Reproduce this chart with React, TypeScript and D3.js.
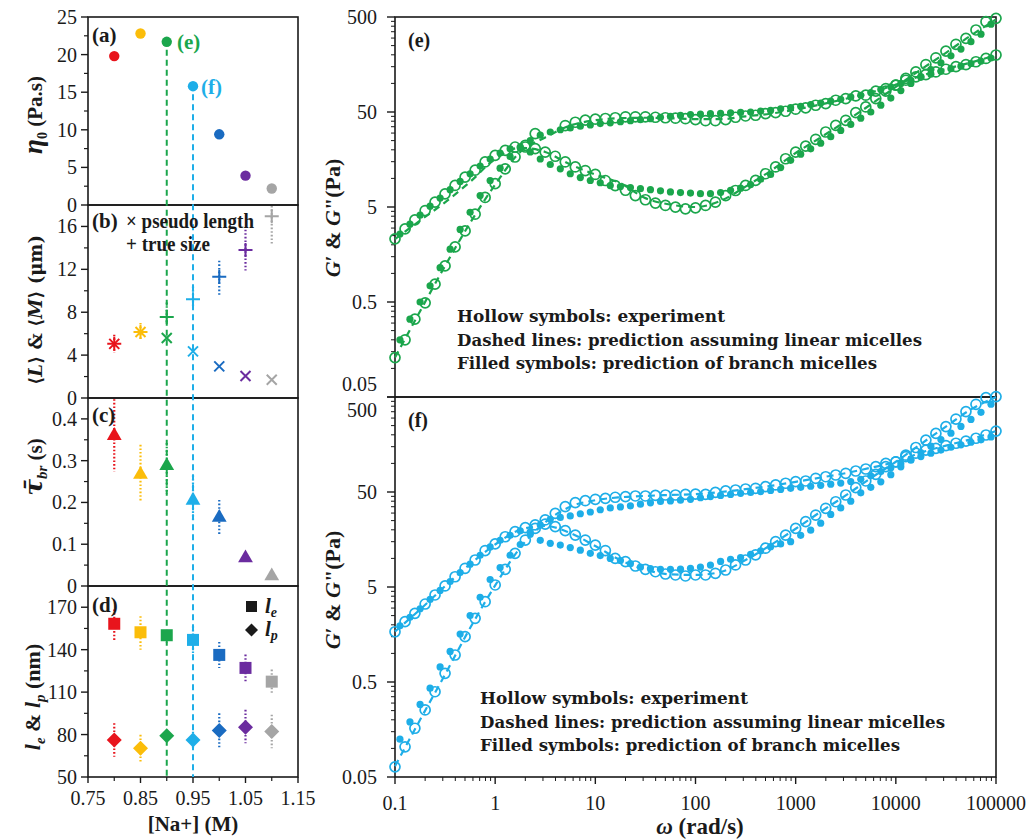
import React from "react";
import * as d3 from "d3";

// ---------- left column: properties vs [Na+] ----------
const NA = [0.8, 0.85, 0.9, 0.95, 1.0, 1.05, 1.1];
const NA_COLORS = ["#e8141c", "#fbbd0a", "#1ba64c", "#1eaee8", "#1a6bc1", "#6b2c9f", "#a5a5a5"];

const ETA0 = [19.8, 22.8, 21.7, 15.8, 9.4, 3.9, 2.2];

const TRUE_SIZE = [5.05, 6.15, 7.55, 9.2, 11.3, 13.8, 16.95];
const TRUE_SIZE_LO = [4.2, 5.4, 7.0, 8.5, 9.6, 11.9, 14.3];
const TRUE_SIZE_HI = [5.9, 7.0, 8.9, 10.4, 12.8, 15.7, 19];
const PSEUDO_LENGTH = [5.05, 6.15, 5.6, 4.35, 2.95, 2.05, 1.7];

const TAU_BR = [0.36, 0.267, 0.288, 0.205, 0.164, 0.067, 0.024];
const TAU_BR_LO = [0.274, 0.2, 0.22, 0.156, 0.124, 0.067, 0.024];
const TAU_BR_HI = [0.447, 0.338, 0.342, 0.265, 0.206, 0.067, 0.024];

const LE = [158.3, 152.3, 150.2, 146.9, 136.3, 127.1, 117.4];
const LE_LO = [146, 140, 145, 136.5, 127, 117.6, 108.2];
const LE_HI = [168.4, 163.7, 153, 156.6, 145.5, 136.5, 125.9];
const LP = [76.2, 70.3, 79.1, 76.2, 82.8, 85.2, 82.1];
const LP_LO = [64.4, 60.9, 75, 70, 70.3, 73.9, 70.3];
const LP_HI = [88, 79.8, 82, 82, 95, 97.5, 94];

// ---------- right column: G' and G'' vs omega ----------
const OMEGA = [
  0.1, 0.126, 0.158, 0.2, 0.251, 0.316, 0.398, 0.501, 0.631, 0.794,
  1, 1.26, 1.58, 2, 2.51, 3.16, 3.98, 5.01, 6.31, 7.94,
  10, 12.6, 15.8, 20, 25.1, 31.6, 39.8, 50.1, 63.1, 79.4,
  100, 126, 158, 200, 251, 316, 398, 501, 631, 794,
  1000, 1259, 1585, 1995, 2512, 3162, 3981, 5012, 6310, 7943,
  10000, 12589, 15849, 19953, 25119, 31623, 39811, 50119, 63096, 79433,
  100000,
];
const OMEGA_FIT = [
  0.112, 0.141, 0.178, 0.224, 0.282, 0.355, 0.447, 0.562, 0.708, 0.891,
  1.12, 1.41, 1.78, 2.24, 2.82, 3.55, 4.47, 5.62, 7.08, 8.91,
  11.2, 14.1, 17.8, 22.4, 28.2, 35.5, 44.7, 56.2, 70.8, 89.1,
  112, 141, 178, 224, 282, 355, 447, 562, 708, 891,
  1122, 1413, 1778, 2239, 2818, 3548, 4467, 5623, 7079, 8913,
  11220, 14125, 17783, 22387, 28184, 35481, 44668, 56234, 70795, 89125,
];
const OMEGA_LIN = [
  0.1, 0.178, 0.316, 0.562, 1, 1.78, 3.16, 5.62, 10, 17.8, 31.6, 56.2, 100,
  178, 316, 562, 1000, 1778, 3162, 5623, 10000, 17783, 31623, 56234, 100000,
];

// (e) experiment
const E_STORAGE = [
  0.13, 0.2, 0.33, 0.49, 0.77, 1.2, 1.9, 2.8, 4.2, 6.3,
  8.8, 12.6, 16.8, 21.4, 29.6, null, null, 36, 39, 41,
  42, 42.7, 43.5, 44.5, 44.5, 44.5, 44, 43.5, 43, 42.5,
  41.5, 40.5, 40.5, 41.5, 44, 45.4, 46.2, 48.1, 49.3, 50.9,
  53.5, 55.2, 58.9, 61.4, 66.5, 69.3, 73.8, 75.1, 82.8, 88.3,
  95.8, 108, 117, 124, 132, 141, 150, 158, 169, 183,
  199,
];
const E_LOSS = [
  2.31, 2.94, 3.66, 4.59, 5.62, 6.88, 8.43, 10.3, 12.2, 14.9,
  17.5, 19.7, 21.4, 22.3, 20.6, 18.9, 17.1, 14.9, 13.2, 12.1,
  11.0, 9.5, 8.4, 7.5, 6.6, 5.96, 5.5, 5.19, 4.98, 4.78,
  4.9, 5.19, 5.62, 6.6, 7.46, 8.43, 9.52, 11.2, 13.2, 16.1,
  18.9, 21.9, 25.8, 30.8, 36.2, 40.9, 49.3, 56.5, 69.3, 82.8,
  95.8, 113, 132, 158, 186, 219, 258, 298, 365, 446,
  484,
];
// (e) branched-micelle prediction
const E_STORAGE_FIT = [
  0.2, 0.33, 0.5, 0.74, 1.15, 1.8, 2.9, 4.4, 6.6, 9.5,
  12.8, 17, 21, 25, 28.5, 30.8, 32.5, 34, 35.5, 36.5,
  37.8, 38.5, 39.5, 40.5, 41.5, 42.5, 44, 45, 46, 47,
  47.5, 48, 48.5, 49, 49.5, 50, 51, 52, 54, 55.5,
  57.5, 60, 62, 65, 68, 72, 75, 80, 86, 92,
  100, 108, 116, 125, 134, 143, 152, 162, 172, 185,
];
const E_LOSS_FIT = [
  2.6, 3.3, 4.1, 5.1, 6.2, 7.6, 9.3, 11.2, 13.5, 16,
  18.5, 20.5, 21.5, 19, 16, 14, 12.6, 11.2, 10.2, 9.5,
  9.0, 8.4, 8.2, 8.0, 7.8, 7.6, 7.4, 7.2, 7.1, 7.0,
  6.9, 6.9, 7.1, 7.5, 7.9, 8.6, 9.8, 11, 13, 15.5,
  18, 20.5, 23.5, 27.5, 32, 37, 43, 50, 59, 70,
  84, 100, 118, 140, 165, 195, 230, 275, 330, 420,
];
// (e) linear-micelle prediction
const E_STORAGE_LIN = [0.13, 0.4, 1.2, 3.4, 8.6, 19, 27, 36, 41, 43, 43.5, 43, 42, 42, 45, 48, 53, 60, 69, 80, 97, 120, 142, 166, 198];
const E_LOSS_LIN = [2.3, 3.6, 5.6, 9.2, 16, 21, 19, 14, 11, 8.9, 6.2, 5.3, 5.0, 5.8, 8.2, 12, 18.5, 27, 40, 60, 92, 140, 210, 320, 470];

// (f) experiment
const F_STORAGE = [
  0.064, 0.104, 0.163, 0.254, 0.395, 0.617, 0.962, 1.5, 2.34, 3.5,
  5.25, 7.67, 11.3, 15.6, 20.7, 25.4, 29.8, 35.1, 38.6, 40.5,
  41.9, 42.9, 44, 44.7, 45.4, 45.4, 46.1, 46.5, 46.5, 47.2,
  47.5, 47.2, 49.6, 51.3, 52.5, 53.8, 54.7, 56.9, 59.3, 61.8,
  64.3, 65.3, 69.7, 72.4, 75.5, 78.7, 83.2, 87.3, 92.4, 100,
  104, 118, 128, 138, 144, 154, 163, 172, 184, 199,
  219,
];
const F_LOSS = [
  1.69, 2.16, 2.64, 3.31, 4.12, 5.13, 6.41, 7.87, 9.62, 12.1,
  14.2, 16.9, 19.1, 21.1, 22.5, 23, 21.6, 19.6, 17.6, 15.6,
  13.8, 12.1, 10.0, 9.25, 8.32, 7.67, 7.24, 6.85, 6.69, 6.53,
  6.69, 6.69, 6.97, 7.55, 8.53, 9.62, 10.9, 12.8, 15.0, 17.6,
  20.7, 24.4, 28.6, 33.7, 39.5, 46.5, 55.6, 65.3, 76.7, 92.4,
  104, 122, 147, 176, 207, 244, 293, 351, 419, 492,
  505,
];
const F_STORAGE_FIT = [
  0.125, 0.19, 0.29, 0.43, 0.72, 1.05, 1.6, 2.5, 3.9, 6.0,
  8.0, 10.8, 14, 18, 22.5, 25.8, 27, 28, 29.5, 30.8,
  32.5, 34, 34.8, 35.8, 37.2, 38.5, 39.7, 40.3, 41, 41.9,
  43.5, 44.8, 46, 47.2, 48.4, 49.5, 50.5, 52, 53.2, 54.7,
  56, 57.5, 58.8, 60.5, 62, 64.5, 68, 74, 82, 90,
  99, 108, 118, 128, 138, 148, 157, 167, 177, 190,
];
const F_LOSS_FIT = [
  1.95, 2.4, 2.95, 3.7, 4.6, 5.7, 7.1, 8.7, 10.8, 13.2,
  15.5, 17.5, 19.5, 19, 15.5, 14.4, 13.8, 13, 12.2, 11.3,
  10.7, 10, 9.5, 8.8, 8.1, 7.8, 7.67, 7.67, 7.7, 7.87,
  8.1, 8.5, 9.3, 9.8, 10.2, 11, 12, 13.3, 14.2, 15,
  17.5, 19.8, 23.5, 29, 34, 40, 49, 56, 64, 76,
  92, 110, 130, 152, 178, 208, 245, 290, 345, 420,
];
const F_STORAGE_LIN = [0.065, 0.2, 0.6, 1.85, 5.2, 13, 24, 35, 41, 44, 45.5, 46.5, 47.5, 50, 53.5, 58, 64, 71, 79, 90, 104, 130, 154, 180, 219];
const F_LOSS_LIN = [1.7, 2.9, 5.1, 8.7, 14, 20, 22, 18.5, 13.5, 9.6, 7.6, 6.8, 6.7, 7.2, 9.6, 13.8, 20.5, 31, 46, 70, 104, 160, 244, 370, 500];

const NOTES = [
  "Hollow symbols: experiment",
  "Dashed lines: prediction assuming linear micelles",
  "Filled symbols: prediction of branch micelles",
];
const NOTE_WIDTHS = [268, 465, 420];

const GREEN = "#1ba64c";
const SKY = "#1eaee8";
const INK = "#1a1a1a";
const BOLD_SERIF = "'DejaVu Serif', serif";

// layout
const LX0 = 88, LX1 = 298;
const RX0 = 395, RX1 = 996;
const xNa = d3.scaleLinear().domain([0.75, 1.15]).range([LX0, LX1]);
const xW = d3.scaleLog().domain([0.1, 100000]).range([RX0, RX1]);

const yA = d3.scaleLinear().domain([0, 25]).range([205, 17]);
const yB = d3.scaleLinear().domain([0, 18]).range([398, 205]);
const yC = d3.scaleLinear().domain([0, 0.45]).range([586, 398]);
const yD = d3.scaleLinear().domain([50, 185]).range([777, 586]);

function LeftFrame({ y, major, minor, fmt }) {
  const [b, t] = y.range();
  return (
    <g>
      <rect x={LX0} y={t} width={LX1 - LX0} height={b - t} fill="none" stroke={INK} strokeWidth={1.6} />
      {minor.map((v) => (
        <line key={"m" + v} x1={LX0 - 4} x2={LX0} y1={y(v)} y2={y(v)} stroke={INK} strokeWidth={1.2} />
      ))}
      {major.map((v) => (
        <g key={"M" + v}>
          <line x1={LX0 - 7} x2={LX0} y1={y(v)} y2={y(v)} stroke={INK} strokeWidth={1.4} />
          <text x={77} y={y(v)} dy="0.35em" textAnchor="end" fontSize={20} fill={INK}>
            {fmt(v)}
          </text>
        </g>
      ))}
    </g>
  );
}

function ErrorBar({ x, y, lo, hi, color }) {
  const [b, t] = y.range();
  const y1 = Math.max(t + 1, y(hi));
  const y2 = Math.min(b - 1, y(lo));
  return <line x1={x} x2={x} y1={y1} y2={y2} stroke={color} strokeWidth={2.2} strokeDasharray="1.6 2" />;
}

function diamond(cx, cy, r) {
  return `M${cx},${cy - r}L${cx + r},${cy}L${cx},${cy + r}L${cx - r},${cy}Z`;
}

const triangle = d3.symbol(d3.symbolTriangle, 95);

function LeftColumn() {
  const f0 = (v) => String(v);
  return (
    <g>
      {/* (a) zero-shear viscosity */}
      <LeftFrame y={yA} major={d3.range(0, 26, 5)} minor={d3.range(2.5, 25, 5)} fmt={f0} />
      {/* (b) sizes */}
      <LeftFrame y={yB} major={d3.range(0, 17, 4)} minor={d3.range(2, 18, 4)} fmt={f0} />
      {/* (c) breaking time */}
      <LeftFrame
        y={yC}
        major={[0, 0.1, 0.2, 0.3, 0.4]}
        minor={[0.05, 0.15, 0.25, 0.35]}
        fmt={(v) => (v === 0 ? "0" : d3.format(".1f")(v))}
      />
      {/* (d) lengths */}
      <LeftFrame y={yD} major={[50, 80, 110, 140, 170]} minor={[65, 95, 125, 155]} fmt={f0} />

      {/* bottom x axis */}
      {[0.75, 0.85, 0.95, 1.05, 1.15].map((v) => (
        <g key={"xl" + v}>
          <line x1={xNa(v)} x2={xNa(v)} y1={777} y2={783} stroke={INK} strokeWidth={1.4} />
          <text x={xNa(v)} y={805} textAnchor="middle" fontSize={20} fill={INK}>
            {d3.format(".2f")(v)}
          </text>
        </g>
      ))}
      {[0.8, 0.9, 1.0, 1.1].map((v) => (
        <line key={"xm" + v} x1={xNa(v)} x2={xNa(v)} y1={777} y2={781} stroke={INK} strokeWidth={1.2} />
      ))}
      <text x={193} y={831} textAnchor="middle" fontSize={21} fontWeight="bold" fill={INK}>
        [Na+] (M)
      </text>

      {/* guide lines for (e) and (f) */}
      <line x1={xNa(0.9)} x2={xNa(0.9)} y1={yA(ETA0[2]) + 8} y2={777} stroke={GREEN} strokeWidth={2} strokeDasharray="6 4" />
      <line x1={xNa(0.95)} x2={xNa(0.95)} y1={yA(ETA0[3]) + 8} y2={777} stroke={SKY} strokeWidth={2} strokeDasharray="6 4" />

      {/* (a) points */}
      {NA.map((n, i) => (
        <circle key={"a" + i} cx={xNa(n)} cy={yA(ETA0[i])} r={5.2} fill={NA_COLORS[i]} />
      ))}
      <text x={177} y={49} fontSize={21} fontWeight="bold" fill={GREEN}>(e)</text>
      <text x={201} y={94} fontSize={21} fontWeight="bold" fill={SKY}>(f)</text>

      {/* (b) points */}
      {NA.map((n, i) => {
        const cx = xNa(n);
        const c = NA_COLORS[i];
        const ty = yB(TRUE_SIZE[i]);
        const py = yB(PSEUDO_LENGTH[i]);
        return (
          <g key={"b" + i}>
            <ErrorBar x={cx} y={yB} lo={TRUE_SIZE_LO[i]} hi={TRUE_SIZE_HI[i]} color={c} />
            <path d={`M${cx - 7},${ty}H${cx + 7}M${cx},${ty - 7}V${ty + 7}`} stroke={c} strokeWidth={2} />
            <path
              d={`M${cx - 5},${py - 5}L${cx + 5},${py + 5}M${cx - 5},${py + 5}L${cx + 5},${py - 5}`}
              stroke={c}
              strokeWidth={2}
            />
          </g>
        );
      })}

      {/* (c) points */}
      {NA.map((n, i) => (
        <g key={"c" + i}>
          {TAU_BR_HI[i] > TAU_BR_LO[i] && (
            <ErrorBar x={xNa(n)} y={yC} lo={TAU_BR_LO[i]} hi={TAU_BR_HI[i]} color={NA_COLORS[i]} />
          )}
          <path d={triangle()} transform={`translate(${xNa(n)},${yC(TAU_BR[i])})`} fill={NA_COLORS[i]} />
        </g>
      ))}

      {/* (d) points */}
      {NA.map((n, i) => (
        <g key={"d" + i}>
          <ErrorBar x={xNa(n)} y={yD} lo={LE_LO[i]} hi={LE_HI[i]} color={NA_COLORS[i]} />
          <ErrorBar x={xNa(n)} y={yD} lo={LP_LO[i]} hi={LP_HI[i]} color={NA_COLORS[i]} />
          <rect x={xNa(n) - 6} y={yD(LE[i]) - 6} width={12} height={12} fill={NA_COLORS[i]} />
          <path d={diamond(xNa(n), yD(LP[i]), 7.5)} fill={NA_COLORS[i]} />
        </g>
      ))}

      {/* panel tags and legends */}
      <g fontWeight="bold" fontSize={21} fill={INK}>
        <text x={92} y={42}>(a)</text>
        <text x={92} y={228}>(b)</text>
        <text x={126} y={228} textLength={128} lengthAdjust="spacingAndGlyphs">× pseudo length</text>
        <text x={126} y={251} textLength={84} lengthAdjust="spacingAndGlyphs">+ true size</text>
        <text x={92} y={422}>(c)</text>
        <text x={92} y={612}>(d)</text>
      </g>
      <rect x={246} y={601} width={11} height={11} fill={INK} />
      <path d={diamond(251.5, 630, 6.5)} fill={INK} />
      <text x={265} y={613} fontSize={21} fontWeight="bold" fontStyle="italic" fill={INK}>
        l<tspan fontSize={14} dy={4}>e</tspan>
      </text>
      <text x={265} y={636} fontSize={21} fontWeight="bold" fontStyle="italic" fill={INK}>
        l<tspan fontSize={14} dy={4}>p</tspan>
      </text>

      {/* y titles */}
      <g fontWeight="bold" fontSize={21} fill={INK} textAnchor="middle">
        <text transform="translate(42,115) rotate(-90)">
          <tspan fontStyle="italic" fontSize={27}>η</tspan>
          <tspan fontSize={14} dy={5}>0</tspan>
          <tspan dy={-5}> (Pa.s)</tspan>
        </text>
        <text transform="translate(42,310) rotate(-90)" fontFamily={BOLD_SERIF} fontSize={18}>
          ⟨<tspan fontStyle="italic">L</tspan>⟩ &amp; ⟨<tspan fontStyle="italic">M</tspan>⟩ (μm)
        </text>
        <text transform="translate(42,467) rotate(-90)">
          <tspan fontStyle="italic" fontSize={25} fontFamily={BOLD_SERIF}>τ̄</tspan>
          <tspan fontStyle="italic" fontSize={15} dy={5}>br</tspan>
          <tspan dy={-5}> (s)</tspan>
        </text>
        <text transform="translate(40,697) rotate(-90)" fontSize={22}>
          <tspan fontStyle="italic">l</tspan>
          <tspan fontStyle="italic" fontSize={15} dy={5}>e</tspan>
          <tspan dy={-5}> &amp; </tspan>
          <tspan fontStyle="italic">l</tspan>
          <tspan fontStyle="italic" fontSize={15} dy={5}>p</tspan>
          <tspan dy={-5}> (nm)</tspan>
        </text>
      </g>
    </g>
  );
}

function RheoPanel({ top, bottom, color, tag, gp, gpp, gpFit, gppFit, gpLin, gppLin, showX, noteX, noteY, topShift, bottomShift, titleY }) {
  const y = d3.scaleLog().domain([0.05, 500]).range([bottom, top]);
  const majors = [0.05, 0.5, 5, 50, 500];
  const minors = [0.05, 0.5, 5, 50].flatMap((d) => d3.range(2, 10).map((k) => d * k));
  const line = d3
    .line<number>()
    .x((_, i) => xW(OMEGA_LIN[i]))
    .y((v) => y(v))
    .curve(d3.curveMonotoneX);
  const xMajors = [0.1, 1, 10, 100, 1000, 10000, 100000];
  const xMinors = [0.1, 1, 10, 100, 1000, 10000].flatMap((d) => d3.range(2, 10).map((k) => d * k));

  return (
    <g>
      <rect x={RX0} y={top} width={RX1 - RX0} height={bottom - top} fill="none" stroke={INK} strokeWidth={1.6} />
      {minors.map((v) => (
        <line key={"ym" + v} x1={RX0 - 4} x2={RX0} y1={y(v)} y2={y(v)} stroke={INK} strokeWidth={1} />
      ))}
      {majors.map((v, i) => (
        <g key={"yM" + v}>
          <line x1={RX0 - 8} x2={RX0} y1={y(v)} y2={y(v)} stroke={INK} strokeWidth={1.4} />
          <text
            x={377}
            y={y(v) + (i === 0 ? bottomShift : i === majors.length - 1 ? topShift : 0)}
            dy="0.35em"
            textAnchor="end"
            fontSize={20}
            fill={INK}
          >
            {String(v)}
          </text>
        </g>
      ))}
      {showX && (
        <g>
          {xMinors.map((v) => (
            <line key={"xm" + v} x1={xW(v)} x2={xW(v)} y1={bottom} y2={bottom + 4} stroke={INK} strokeWidth={1} />
          ))}
          {xMajors.map((v) => (
            <g key={"xM" + v}>
              <line x1={xW(v)} x2={xW(v)} y1={bottom} y2={bottom + 7} stroke={INK} strokeWidth={1.4} />
              <text x={xW(v)} y={810} textAnchor="middle" fontSize={20} fill={INK}>
                {String(v)}
              </text>
            </g>
          ))}
        </g>
      )}

      {/* linear-micelle prediction */}
      <path d={line(gpLin)} fill="none" stroke={color} strokeWidth={2.2} strokeDasharray="7 5" />
      <path d={line(gppLin)} fill="none" stroke={color} strokeWidth={2.2} strokeDasharray="7 5" />

      {/* branched-micelle prediction */}
      {[gpFit, gppFit].map((s, k) =>
        s.map((v, i) => <circle key={`f${k}-${i}`} cx={xW(OMEGA_FIT[i])} cy={y(v)} r={3.6} fill={color} />)
      )}

      {/* experiment */}
      {[gp, gpp].map((s, k) =>
        s.map((v, i) =>
          v == null ? null : (
            <circle key={`h${k}-${i}`} cx={xW(OMEGA[i])} cy={y(v)} r={5} fill="none" stroke={color} strokeWidth={1.7} />
          )
        )
      )}

      <text x={408} y={top + 30} fontSize={20} fontWeight="bold" fill={INK}>{tag}</text>
      <g fontFamily={BOLD_SERIF} fontWeight="bold" fontSize={17.5} fill={INK}>
        {NOTES.map((t, i) => (
          <text key={t} x={noteX} y={noteY + i * 23.5} textLength={NOTE_WIDTHS[i]} lengthAdjust="spacingAndGlyphs">
            {t}
          </text>
        ))}
      </g>
      <text
        transform={`translate(340,${titleY}) rotate(-90)`}
        textAnchor="middle"
        fontSize={22}
        fontWeight="bold"
        fill={INK}
      >
        <tspan fontStyle="italic">G</tspan>′ &amp; <tspan fontStyle="italic">G</tspan>"(Pa)
      </text>
    </g>
  );
}

export default function App() {
  return (
    <svg
      width={1032}
      height={840}
      style={{ position: "absolute", left: 0, top: 0, background: "#fff" }}
      fontFamily="'Liberation Serif', 'Times New Roman', serif"
    >
      <rect width={1032} height={840} fill="#fff" />
      <LeftColumn />
      <RheoPanel
        top={17}
        bottom={397}
        color={GREEN}
        tag="(e)"
        gp={E_STORAGE}
        gpp={E_LOSS}
        gpFit={E_STORAGE_FIT}
        gppFit={E_LOSS_FIT}
        gpLin={E_STORAGE_LIN}
        gppLin={E_LOSS_LIN}
        showX={false}
        noteX={457}
        noteY={322}
        topShift={0}
        bottomShift={-13}
        titleY={218}
      />
      <RheoPanel
        top={397}
        bottom={777}
        color={SKY}
        tag="(f)"
        gp={F_STORAGE}
        gpp={F_LOSS}
        gpFit={F_STORAGE_FIT}
        gppFit={F_LOSS_FIT}
        gpLin={F_STORAGE_LIN}
        gppLin={F_LOSS_LIN}
        showX={true}
        noteX={480}
        noteY={704}
        topShift={13}
        bottomShift={0}
        titleY={590}
      />
      <text x={700} y={834} textAnchor="middle" fontSize={23} fontWeight="bold" fill={INK}>
        <tspan fontStyle="italic">ω</tspan> (rad/s)
      </text>
    </svg>
  );
}
